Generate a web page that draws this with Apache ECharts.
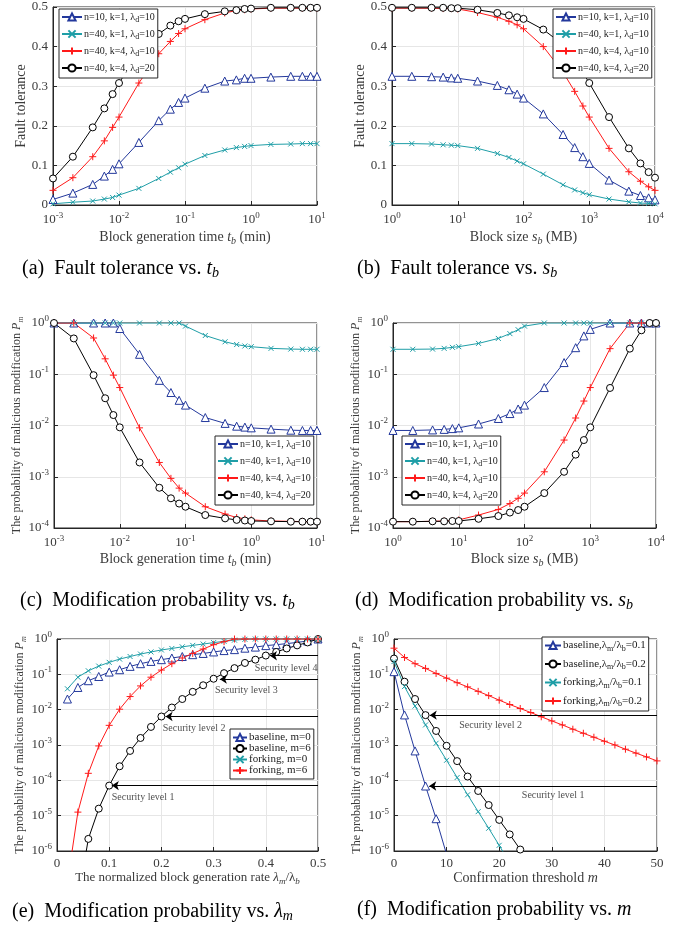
<!DOCTYPE html>
<html>
<head>
<meta charset="utf-8">
<script src="https://cdn.jsdelivr.net/npm/echarts@6/dist/echarts.min.js"></script>
<style>
html, body { margin: 0; padding: 0; background: #fff; }
#chart { width: 685px; height: 931px; }
</style>
</head>
<body>
<div id="chart"></div>
<script>
// x values
var tbVals = [0.001, 0.002, 0.004, 0.006, 0.008, 0.01, 0.02, 0.04, 0.06, 0.08, 0.1, 0.2, 0.4, 0.6, 0.8, 1, 2, 4, 6, 8, 10];
var sbVals = [1, 2, 4, 6, 8, 10, 20, 40, 60, 80, 100, 200, 400, 600, 800, 1000, 2000, 4000, 6000, 8000, 10000];
var lamVals = [0.02, 0.04, 0.06, 0.08, 0.1, 0.12, 0.14, 0.16, 0.18, 0.2, 0.22, 0.24, 0.26, 0.28, 0.3, 0.32, 0.34, 0.36, 0.38, 0.4, 0.42, 0.44, 0.46, 0.48, 0.5];
var mVals = [0, 2, 4, 6, 8, 10, 12, 14, 16, 18, 20, 22, 24, 26, 28, 30, 32, 34, 36, 38, 40, 42, 44, 46, 48, 50];

// (a) fault tolerance vs t_b
var ftTbN10k1 = [0.014, 0.030, 0.052, 0.073, 0.090, 0.104, 0.158, 0.213, 0.242, 0.259, 0.270, 0.295, 0.313, 0.316, 0.320, 0.320, 0.323, 0.325, 0.325, 0.325, 0.325];
var ftTbN40k1 = [0.003, 0.007, 0.010, 0.015, 0.019, 0.025, 0.042, 0.067, 0.083, 0.094, 0.103, 0.125, 0.139, 0.145, 0.148, 0.150, 0.153, 0.154, 0.155, 0.155, 0.155];
var ftTbN40k4 = [0.037, 0.069, 0.122, 0.162, 0.196, 0.222, 0.308, 0.382, 0.413, 0.433, 0.445, 0.468, 0.485, 0.491, 0.493, 0.495, 0.497, 0.497, 0.497, 0.497, 0.497];
var ftTbN40k4d20 = [0.067, 0.122, 0.196, 0.244, 0.280, 0.308, 0.385, 0.432, 0.453, 0.464, 0.470, 0.482, 0.489, 0.492, 0.495, 0.496, 0.498, 0.498, 0.498, 0.498, 0.498];

// (b) fault tolerance vs s_b
var ftSbN10k1 = [0.325, 0.325, 0.324, 0.323, 0.321, 0.320, 0.313, 0.302, 0.291, 0.280, 0.270, 0.230, 0.178, 0.145, 0.122, 0.105, 0.063, 0.035, 0.024, 0.018, 0.013];
var ftSbN40k1 = [0.155, 0.155, 0.154, 0.152, 0.151, 0.150, 0.143, 0.130, 0.120, 0.111, 0.104, 0.078, 0.051, 0.038, 0.031, 0.026, 0.015, 0.008, 0.005, 0.004, 0.003];
var ftSbN40k4 = [0.497, 0.497, 0.497, 0.496, 0.496, 0.495, 0.486, 0.474, 0.464, 0.455, 0.445, 0.400, 0.335, 0.287, 0.250, 0.222, 0.143, 0.084, 0.060, 0.046, 0.037];
var ftSbN40k4d20 = [0.498, 0.498, 0.498, 0.498, 0.497, 0.497, 0.493, 0.485, 0.479, 0.474, 0.470, 0.443, 0.405, 0.370, 0.335, 0.308, 0.222, 0.143, 0.105, 0.083, 0.069];

// (c) P_m vs t_b
var pmTbN10k1 = [1, 1, 1, 1, 1, 0.78, 0.245, 0.076, 0.044, 0.031, 0.025, 0.0143, 0.011, 0.0097, 0.0093, 0.009, 0.0085, 0.0081, 0.008, 0.008, 0.008];
var pmTbN40k1 = [1, 1, 1, 1, 1, 1, 1, 1, 1, 1, 0.87, 0.57, 0.43, 0.38, 0.356, 0.345, 0.32, 0.31, 0.307, 0.307, 0.307];
var pmTbN40k4 = [1, 1, 0.51, 0.2, 0.096, 0.055, 0.009, 0.0019, 0.00093, 0.0006, 0.00048, 0.00026, 0.000187, 0.00016, 0.000151, 0.000144, 0.000137, 0.000135, 0.000133, 0.000133, 0.000133];
var pmTbN40k4d20 = [1, 0.5, 0.096, 0.034, 0.016, 0.0092, 0.0019, 0.00061, 0.00038, 0.0003, 0.00026, 0.000179, 0.000154, 0.000144, 0.00014, 0.000137, 0.000135, 0.000133, 0.000133, 0.000133, 0.000133];

// (d) P_m vs s_b
var pmSbN10k1 = [0.008, 0.008, 0.0082, 0.0084, 0.0087, 0.009, 0.0107, 0.0137, 0.0171, 0.021, 0.025, 0.055, 0.169, 0.33, 0.56, 0.75, 1, 1, 1, 1, 1];
var pmSbN40k1 = [0.307, 0.307, 0.31, 0.32, 0.335, 0.345, 0.4, 0.5, 0.62, 0.74, 0.87, 1, 1, 1, 1, 1, 1, 1, 1, 1, 1];
var pmSbN40k4 = [0.000133, 0.000133, 0.000135, 0.000137, 0.00014, 0.000144, 0.000179, 0.00023, 0.0003, 0.00038, 0.00048, 0.00125, 0.0052, 0.014, 0.03, 0.055, 0.316, 1, 1, 1, 1];
var pmSbN40k4d20 = [0.000133, 0.000133, 0.000135, 0.000135, 0.000137, 0.000137, 0.000151, 0.000171, 0.0002, 0.000224, 0.00026, 0.00048, 0.00125, 0.0027, 0.0052, 0.0092, 0.054, 0.316, 0.72, 1, 1];

// (e) P_m vs lambda_m/lambda_b
var pmLamBase0 = [0.02, 0.0425, 0.066, 0.087, 0.116, 0.135, 0.168, 0.2, 0.232, 0.26, 0.29, 0.32, 0.36, 0.39, 0.43, 0.47, 0.5, 0.55, 0.59, 0.65, 0.69, 0.74, 0.8, 0.88, 1];
var pmLamBase6 = [1e-10, 4e-8, 2.2e-6, 1.58e-5, 7.1e-5, 2.5e-4, 6.8e-4, 1.58e-3, 3.25e-3, 6.4e-3, 0.0115, 0.02, 0.032, 0.049, 0.075, 0.108, 0.15, 0.21, 0.26, 0.34, 0.43, 0.54, 0.66, 0.8, 1];
var pmLamFork0 = [0.039, 0.083, 0.126, 0.171, 0.218, 0.27, 0.32, 0.375, 0.43, 0.49, 0.54, 0.6, 0.66, 0.72, 0.79, 0.86, 0.93, 0.98, 1, 1, 1, 1, 1, 1, 1];
var pmLamFork6 = [1.3e-7, 1.26e-5, 1.58e-4, 9.4e-4, 3.6e-3, 0.0103, 0.0235, 0.047, 0.083, 0.132, 0.2, 0.29, 0.39, 0.52, 0.69, 0.84, 1, 1, 1, 1, 1, 1, 1, 1, 1];

// (f) P_m vs m
var pmMBase01 = [0.119, 7.1e-3, 6.8e-4, 6.9e-5, 8.2e-6, 8e-7];
var pmMBase02 = [0.28, 0.062, 0.02, 7e-3, 2.5e-3, 9.5e-4, 3.5e-4, 1.28e-4, 5e-5, 2e-5, 7.6e-6, 2.95e-6, 1.1e-6];
var pmMFork01 = [0.23, 0.045, 0.0126, 3.7e-3, 1.12e-3, 3.7e-4, 1.2e-4, 3.9e-5, 1.3e-5, 4.4e-6, 1.45e-6, 4.5e-7];
var pmMFork02 = [0.55, 0.3, 0.2, 0.147, 0.106, 0.078, 0.058, 0.044, 0.033, 0.025, 0.0186, 0.014, 0.0108, 8.3e-3, 6.3e-3, 4.8e-3, 3.7e-3, 2.8e-3, 2.15e-3, 1.66e-3, 1.28e-3, 1.0e-3, 7.6e-4, 5.9e-4, 4.6e-4, 3.55e-4];

// security level annotations
var secLabelsE = ['Security level 1', 'Security level 2', 'Security level 3', 'Security level 4'];
var secArrowXE = [0.105, 0.208, 0.312, 0.408];
var secArrowYE = [7.1e-5, 6.4e-3, 0.073, 0.336];
var secTextXE = [0.105, 0.2025, 0.3025, 0.379];
var secTextYE = [3.2e-5, 2.97e-3, 0.036, 0.15];
var secLabelsF = ['Security level 1', 'Security level 2'];
var secArrowXF = [6.7, 6.8];
var secArrowYF = [6.9e-5, 7e-3];
var secTextXF = [24.3, 12.4];
var secTextYF = [3.8e-5, 3.6e-3];

var namesN = ['n=10, k=1, λ_d=10', 'n=40, k=1, λ_d=10', 'n=40, k=4, λ_d=10', 'n=40, k=4, λ_d=20'];
var namesE = ['baseline, m=0', 'baseline, m=6', 'forking, m=0', 'forking, m=6'];
var namesF = ['baseline,λ_m/λ_b=0.1', 'baseline,λ_m/λ_b=0.2', 'forking,λ_m/λ_b=0.1', 'forking,λ_m/λ_b=0.2'];

var SERIF = 'Liberation Serif';
var GRAY = '#3a3a3a';
var BLUE = '#23389c', CYAN = '#1f9ea7', RED = '#ff1a1a', BLACK = '#000000';

// hollow marks drawn as paths so the outline stays 1px
var styTri = { symbol: 'path://M5,0L10,8.66L0,8.66Z', size: 8, color: BLUE, fill: '#fff' };
var styX = { symbol: 'path://M0,0L10,10M10,0L0,10', size: 5, color: CYAN, fill: CYAN };
var styPlus = { symbol: 'path://M5,0L5,10M0,5L10,5', size: 7, color: RED, fill: RED };
var styCirc = { symbol: 'path://M10,5A5,5,0,1,1,0,5A5,5,0,1,1,10,5Z', size: 7, color: BLACK, fill: '#fff' };

var myChart = echarts.init(document.getElementById('chart'));

function zip(xs, ys) {
    var out = [];
    for (var i = 0; i < ys.length; i++) out.push([xs[i], ys[i]]);
    return out;
}

function line(name, idx, xs, ys, st) {
    return {
        name: name, type: 'line', xAxisIndex: idx, yAxisIndex: idx,
        data: zip(xs, ys), symbol: st.symbol, symbolSize: st.size, showAllSymbol: true,
        lineStyle: { color: st.color, width: 1 },
        itemStyle: { color: st.fill, borderColor: st.color, borderWidth: 1 },
        emphasis: { disabled: true }, clip: true
    };
}

function arrows(idx, xs, ys, xEnd) {
    var d = [];
    for (var i = 0; i < xs.length; i++) d.push([{ coord: [xEnd, ys[i]] }, { coord: [xs[i], ys[i]] }]);
    return {
        type: 'line', xAxisIndex: idx, yAxisIndex: idx, data: [],
        markLine: {
            silent: true, symbol: ['none', 'arrow'], symbolSize: 7,
            lineStyle: { color: '#000', width: 1, type: 'solid' },
            label: { show: false }, data: d
        }
    };
}

function notes(idx, xs, ys, labels) {
    var d = [];
    for (var i = 0; i < xs.length; i++) d.push([xs[i], ys[i], labels[i]]);
    return {
        type: 'scatter', xAxisIndex: idx, yAxisIndex: idx, data: d, symbolSize: 0, silent: true,
        label: {
            show: true, position: 'right', distance: 0, formatter: function (p) { return p.data[2]; },
            fontFamily: SERIF, fontSize: 10, color: '#222'
        }
    };
}

var tickRich = {
    p: { fontFamily: SERIF, fontSize: 9, color: GRAY, padding: [0, 0, 9, 0] }
};
function logFmt(v) {
    return '10{p|' + Math.round(Math.log10(v)) + '}';
}

function nameRich(fs) {
    return {
        i: { fontFamily: SERIF, fontSize: fs, fontStyle: 'italic', color: GRAY },
        s: { fontFamily: SERIF, fontSize: fs - 4, fontStyle: 'italic', color: GRAY, padding: [8, 0, 0, 0] }
    };
}

function xAxis(idx, type, min, max, name, gap, fs, interval) {
    var ax = {
        gridIndex: idx, type: type, min: min, max: max,
        axisLine: { show: true, lineStyle: { color: '#262626' } },
        axisTick: { inside: true, length: 4, lineStyle: { color: '#262626' } },
        axisLabel: { fontFamily: SERIF, fontSize: 13, color: GRAY, margin: 6, rich: tickRich },
        splitLine: { show: true, lineStyle: { color: '#e6e6e6' } },
        name: name, nameLocation: 'middle', nameGap: gap,
        nameTextStyle: { fontFamily: SERIF, fontSize: fs, color: GRAY, rich: nameRich(fs) }
    };
    if (type === 'log') {
        ax.logBase = 10;
        ax.splitNumber = Math.round(Math.log10(max / min));
        ax.axisLabel.formatter = logFmt;
    } else {
        ax.interval = interval;
    }
    return ax;
}

function yAxis(idx, type, min, max, name, gap, fs, interval) {
    var ax = xAxis(idx, type, min, max, name, gap, fs, interval);
    ax.axisLabel.margin = 5;
    ax.nameRotate = 90;
    return ax;
}

function legendFmt(name) {
    return name.replace(/_(\w)/g, '{sb|$1}');
}

function legend(names, left, top, gap, fs, w) {
    return {
        data: names, orient: 'vertical', left: left, top: top, itemGap: gap,
        itemWidth: w, itemHeight: 9, padding: [3, 3, 3, 2], selectedMode: false,
        borderColor: '#262626', borderWidth: 1, borderRadius: 0, backgroundColor: '#fff',
        formatter: legendFmt,
        textStyle: {
            fontFamily: SERIF, fontSize: fs, color: '#1a1a1a', padding: [0, 0, 0, -3],
            rich: { sb: { fontFamily: SERIF, fontSize: 8, color: '#1a1a1a', padding: [6, 0, 0, 0] } }
        }
    };
}

function caption(text, left, top) {
    return {
        text: text, left: left, top: top,
        textStyle: {
            fontFamily: SERIF, fontSize: 20, fontWeight: 'normal', color: '#000',
            rich: {
                i: { fontFamily: SERIF, fontSize: 20, fontStyle: 'italic', color: '#000' },
                s: { fontFamily: SERIF, fontSize: 14, fontStyle: 'italic', color: '#000', padding: [9, 0, 0, 0] }
            }
        }
    };
}

var grids = [
    { left: 53, top: 7, width: 264, height: 198 },
    { left: 392, top: 7, width: 263, height: 198 },
    { left: 54, top: 323, width: 263, height: 205 },
    { left: 393, top: 323, width: 263, height: 205 },
    { left: 57, top: 639, width: 261, height: 212 },
    { left: 394, top: 639, width: 263, height: 212 }
];
grids.forEach(function (g) {
    g.show = true;
    g.borderColor = '#262626';
    g.borderWidth = 1;
    g.backgroundColor = '#fff';
});

var pmName = 'The probability of malicious modification {i|P}{s|m}';
var tbName = 'Block generation time {i|t}{s|b} (min)';
var sbName = 'Block size {i|s}{s|b} (MB)';

var option = {
    animation: false,
    backgroundColor: '#fff',
    title: [
        caption('(a)  Fault tolerance vs. {i|t}{s|b}', 17, 252),
        caption('(b)  Fault tolerance vs. {i|s}{s|b}', 352, 252),
        caption('(c)  Modification probability vs. {i|t}{s|b}', 15, 584),
        caption('(d)  Modification probability vs. {i|s}{s|b}', 350, 584),
        caption('(e)  Modification probability vs. {i|λ}{s|m}', 7, 895),
        caption('(f)  Modification probability vs. {i|m}', 352, 895)
    ],
    grid: grids,
    legend: [
        legend(namesN, 59, 9, 5, 10, 20),
        legend(namesN, 553, 9, 5, 10, 20),
        legend(namesN, 215, 436, 5, 10, 20),
        legend(namesN, 402, 436, 5, 10, 20),
        legend(namesE, 230, 729, 0, 11, 14),
        legend(namesF, 542, 637, 6, 11, 16)
    ],
    xAxis: [
        xAxis(0, 'log', 0.001, 10, tbName, 23, 14),
        xAxis(1, 'log', 1, 10000, sbName, 23, 14),
        xAxis(2, 'log', 0.001, 10, tbName, 22, 14),
        xAxis(3, 'log', 1, 10000, sbName, 22, 14),
        xAxis(4, 'value', 0, 0.5, 'The normalized block generation rate {i|λ}{s|m}/λ{s|b}', 15, 13, 0.1),
        xAxis(5, 'value', 0, 50, 'Confirmation threshold {i|m}', 20, 14, 10)
    ],
    yAxis: [
        yAxis(0, 'value', 0, 0.5, 'Fault tolerance', 24, 14, 0.1),
        yAxis(1, 'value', 0, 0.5, 'Fault tolerance', 24, 14, 0.1),
        yAxis(2, 'log', 0.0001, 1, pmName, 25, 12),
        yAxis(3, 'log', 0.0001, 1, pmName, 25, 12),
        yAxis(4, 'log', 0.000001, 1, pmName, 27, 12),
        yAxis(5, 'log', 0.000001, 1, pmName, 27, 12)
    ],
    series: [
        line(namesN[0], 0, tbVals, ftTbN10k1, styTri),
        line(namesN[1], 0, tbVals, ftTbN40k1, styX),
        line(namesN[2], 0, tbVals, ftTbN40k4, styPlus),
        line(namesN[3], 0, tbVals, ftTbN40k4d20, styCirc),

        line(namesN[0], 1, sbVals, ftSbN10k1, styTri),
        line(namesN[1], 1, sbVals, ftSbN40k1, styX),
        line(namesN[2], 1, sbVals, ftSbN40k4, styPlus),
        line(namesN[3], 1, sbVals, ftSbN40k4d20, styCirc),

        line(namesN[0], 2, tbVals, pmTbN10k1, styTri),
        line(namesN[1], 2, tbVals, pmTbN40k1, styX),
        line(namesN[2], 2, tbVals, pmTbN40k4, styPlus),
        line(namesN[3], 2, tbVals, pmTbN40k4d20, styCirc),

        line(namesN[0], 3, sbVals, pmSbN10k1, styTri),
        line(namesN[1], 3, sbVals, pmSbN40k1, styX),
        line(namesN[2], 3, sbVals, pmSbN40k4, styPlus),
        line(namesN[3], 3, sbVals, pmSbN40k4d20, styCirc),

        line(namesE[0], 4, lamVals, pmLamBase0, styTri),
        line(namesE[1], 4, lamVals, pmLamBase6, styCirc),
        line(namesE[2], 4, lamVals, pmLamFork0, styX),
        line(namesE[3], 4, lamVals, pmLamFork6, styPlus),
        arrows(4, secArrowXE, secArrowYE, 0.5),
        notes(4, secTextXE, secTextYE, secLabelsE),

        line(namesF[0], 5, mVals, pmMBase01, styTri),
        line(namesF[1], 5, mVals, pmMBase02, styCirc),
        line(namesF[2], 5, mVals, pmMFork01, styX),
        line(namesF[3], 5, mVals, pmMFork02, styPlus),
        arrows(5, secArrowXF, secArrowYF, 50),
        notes(5, secTextXF, secTextYF, secLabelsF)
    ]
};

myChart.setOption(option);

window.addEventListener('resize', function () {
    myChart.resize();
});
</script>
</body>
</html>
